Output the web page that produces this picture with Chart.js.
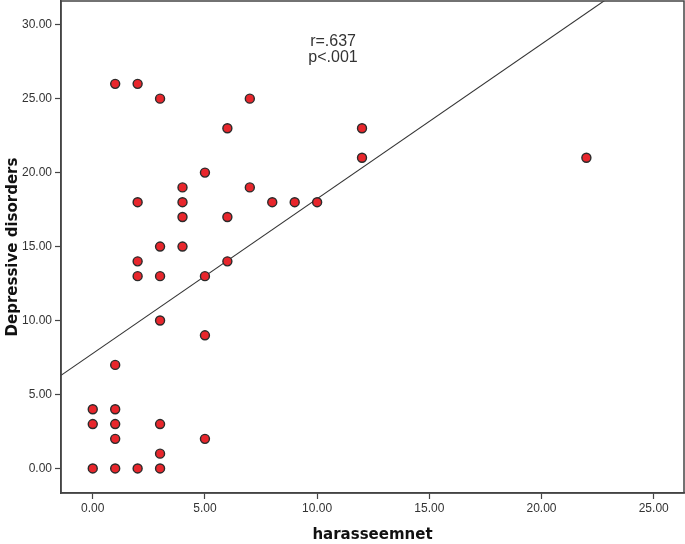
<!DOCTYPE html>
<html>
<head>
<meta charset="utf-8">
<script src="https://cdn.jsdelivr.net/npm/chart.js@4"></script>
<style>
  html, body { margin: 0; padding: 0; background: #fff; }
  #wrap { width: 685px; height: 544px; }
</style>
</head>
<body>
<div id="wrap"><canvas id="chart"></canvas></div>
<script>
// harassment score (x) vs depressive disorders score (y)
const harassment = [
  0, 0, 0,
  1, 1, 1, 1, 1, 1,
  2, 2, 2, 2, 2,
  3, 3, 3, 3, 3, 3, 3,
  4, 4, 4, 4,
  5, 5, 5, 5,
  6, 6, 6,
  7, 7,
  8, 9, 10,
  12, 12,
  22
];
const depressive = [
  0, 3, 4,
  26, 7, 4, 3, 2, 0,
  26, 18, 14, 13, 0,
  25, 15, 13, 10, 3, 1, 0,
  19, 18, 17, 15,
  20, 13, 9, 2,
  23, 17, 14,
  25, 19,
  18, 18, 18,
  23, 21,
  21
];

const fitIntercept = 7.77;
const fitSlope = 1.046;
const annotationLines = ["r=.637", "p<.001"];

const xMin = -1.415, xMax = 26.35;
const yMin = -1.66, yMax = 31.6;

const points = harassment.map((x, i) => ({ x: x, y: depressive[i] }));
const fitLine = [
  { x: xMin, y: fitIntercept + fitSlope * xMin },
  { x: xMax, y: fitIntercept + fitSlope * xMax },
];

const onlyFives = (scale) => {
  scale.ticks = scale.ticks.filter((t) => Math.abs(t.value - Math.round(t.value / 5) * 5) < 1e-6);
};

const frame = {
  id: "frame",
  afterDraw(chart) {
    const { ctx, chartArea: a } = chart;
    ctx.save();
    ctx.strokeStyle = "#444";
    ctx.lineWidth = 1.5;
    ctx.strokeRect(a.left, a.top, a.right - a.left, a.bottom - a.top);
    ctx.restore();
  },
};

const annotation = {
  id: "annotation",
  afterDatasetsDraw(chart) {
    const { ctx, scales } = chart;
    const cx = scales.x.getPixelForValue(10.71);
    const y0 = scales.y.getPixelForValue(28.53);
    ctx.save();
    ctx.font = "16px 'Liberation Sans', Arial, sans-serif";
    ctx.fillStyle = "#333";
    ctx.textAlign = "center";
    ctx.textBaseline = "alphabetic";
    annotationLines.forEach((line, i) => ctx.fillText(line, cx, y0 + i * 15.5));
    ctx.restore();
  },
};

new Chart(document.getElementById("chart"), {
  type: "scatter",
  data: {
    datasets: [
      {
        data: points,
        backgroundColor: "#e8262c",
        borderColor: "#2b2b2b",
        borderWidth: 1.4,
        pointRadius: 4.5,
        order: 1,
      },
      {
        type: "line",
        data: fitLine,
        borderColor: "#333",
        borderWidth: 1.1,
        pointRadius: 0,
        fill: false,
        order: 2,
      },
    ],
  },
  options: {
    responsive: true,
    maintainAspectRatio: false,
    animation: false,
    layout: { autoPadding: false, padding: { top: 1, right: 1, left: 0, bottom: 0 } },
    plugins: { legend: { display: false }, tooltip: { enabled: false } },
    scales: {
      x: {
        type: "linear",
        min: xMin,
        max: xMax,
        afterBuildTicks: onlyFives,
        afterFit: (s) => { s.height = 51; s.paddingLeft = 0; s.paddingRight = 0; },
        ticks: {
          stepSize: 5,
          includeBounds: false,
          autoSkip: false,
          maxRotation: 0,
          padding: 2,
          color: "#333",
          font: { family: "'Liberation Sans', Arial", size: 12 },
          callback: (v) => Number(v).toFixed(2),
        },
        grid: { drawOnChartArea: false, tickLength: 6, color: "#444", tickWidth: 1.2 },
        border: { color: "#444", width: 1.5 },
        title: {
          display: true,
          text: "harasseemnet",
          color: "#111",
          font: { family: "'DejaVu Sans'", size: 15, weight: "bold" },
          padding: { top: 8, bottom: 0 },
        },
      },
      y: {
        type: "linear",
        min: yMin,
        max: yMax,
        afterBuildTicks: onlyFives,
        afterFit: (s) => { s.width = 61; s.paddingTop = 0; s.paddingBottom = 0; },
        ticks: {
          stepSize: 5,
          includeBounds: false,
          autoSkip: false,
          padding: 3,
          color: "#333",
          font: { family: "'Liberation Sans', Arial", size: 12 },
          callback: (v) => Number(v).toFixed(2),
        },
        grid: { drawOnChartArea: false, tickLength: 6, color: "#444", tickWidth: 1.2 },
        border: { color: "#444", width: 1.5 },
        title: {
          display: true,
          text: "Depressive disorders",
          color: "#111",
          font: { family: "'DejaVu Sans'", size: 15, weight: "bold" },
          padding: { top: 4, bottom: 0 },
        },
      },
    },
  },
  plugins: [frame, annotation],
});
</script>
</body>
</html>
